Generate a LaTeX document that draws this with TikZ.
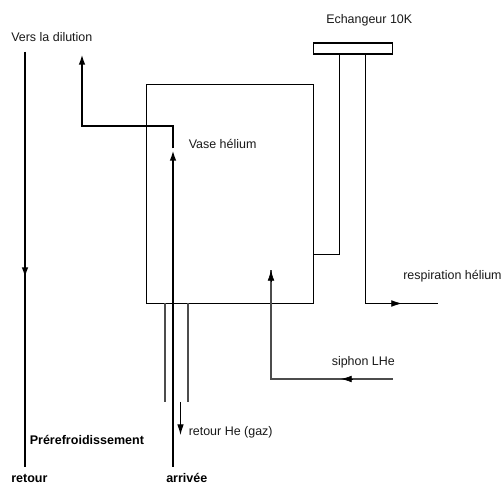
\documentclass[tikz,border=0pt]{standalone}
\usepackage{fontspec}
\setmainfont{Liberation Sans}
\usetikzlibrary{arrows.meta}
\tikzset{
  px/.style={x=0.75pt,y=-0.75pt},
  thinline/.style={line width=0.8pt,draw=black},
  greyline/.style={line width=0.95pt,draw=black!70},
  thickline/.style={line width=2.1pt,draw=black},
  tipline/.style={line width=0.5pt,draw=black,-{Latex[length=8pt,width=5pt]}},
  endtip/.style={-{Latex[length=8pt,width=5pt]}},
  lbl/.style={font=\fontsize{9.35pt}{11pt}\selectfont,inner sep=0pt,anchor=base west,text=black!90},
  lblb/.style={font=\fontsize{9.4pt}{11pt}\selectfont\bfseries,inner sep=0pt,anchor=base west}
}
\begin{document}
\begin{tikzpicture}[px]
\useasboundingbox (0,0) rectangle (501,484);
\clip (0,0) rectangle (501,484);
% named points
\coordinate (rt) at (25,52);
\coordinate (rb) at (25,467);
\coordinate (rm) at (25,278);
\coordinate (at) at (173,150);
\coordinate (ab) at (173,467);
\coordinate (bs) at (173,148.5);
\coordinate (bc) at (173,126);
\coordinate (bl) at (82,126);
\coordinate (be) at (82,54);
\coordinate (v1) at (146,84);
\coordinate (e1) at (312.5,42.5);
\coordinate (t1t) at (339.5,53.5);
\coordinate (t1b) at (339.5,254.5);
\coordinate (t1e) at (313,254.5);
\coordinate (t2t) at (365.5,53.5);
\coordinate (t2b) at (365.5,303.5);
\coordinate (t2a) at (390,303.5);
\coordinate (t2m) at (402,303.5);
\coordinate (t2e) at (438,303.5);
\coordinate (s1) at (392.5,379);
\coordinate (sa) at (353,379);
\coordinate (sm) at (341,379);
\coordinate (s2) at (271,379);
\coordinate (s3a) at (271,282);
\coordinate (s3) at (271,270);
\coordinate (g1t) at (165,303.5);
\coordinate (g1b) at (165,402);
\coordinate (g2t) at (188,303.5);
\coordinate (g2b) at (188,402);
\coordinate (rht) at (180.5,402);
\coordinate (rhb) at (180.5,435);
% vessel and exchanger
\node[draw=black,line width=0.8pt,inner sep=0pt,rectangle,anchor=north west,minimum width=125.25pt,minimum height=164.25pt] (vase) at (v1) {};
\node[draw=black,line width=0.95pt,inner sep=0pt,rectangle,anchor=north west,minimum width=59.6pt,minimum height=8.25pt] (ech) at (e1) {};
% tubes
\draw[thinline] (t1t) -- (t1b) -- (t1e);
\draw[thinline] (t2t) -- (t2b) -- (t2e);
\draw[tipline] (t2a) -- (t2m);
\draw[greyline,line join=miter] (s1) -- (s2) -- (s3);
\draw[tipline] (sa) -- (sm);
\draw[tipline] (s3a) -- (s3);
\draw[greyline] (g1t) -- (g1b);
\draw[greyline] (g2t) -- (g2b);
\draw[thinline,endtip] (rht) -- (rhb);
% thick lines
\draw[thickline] (rt) -- (rb);
\draw[thickline,endtip] (rt) -- (rm);
\draw[thickline,endtip] (ab) -- (at);
\draw[thickline,line join=miter,endtip] (bs) -- (bc) -- (bl) -- (be);
% labels
\node[lbl] (l1) at (11,41.5) {Vers la dilution};
\node[lbl] (l2) at (326,24) {Echangeur 10K};
\node[lbl] (l3) at (188.5,149) {Vase hélium};
\node[lbl] (l4) at (403,280) {respiration hélium};
\node[lbl] (l5) at (331.5,366) {siphon LHe};
\node[lbl] (l6) at (188.5,436) {retour He (gaz)};
\node[lblb] (l7) at (29.5,445) {Prérefroidissement};
\node[lblb] (l8) at (11,483) {retour};
\node[lblb] (l9) at (166,483) {arrivée};
\end{tikzpicture}
\end{document}
